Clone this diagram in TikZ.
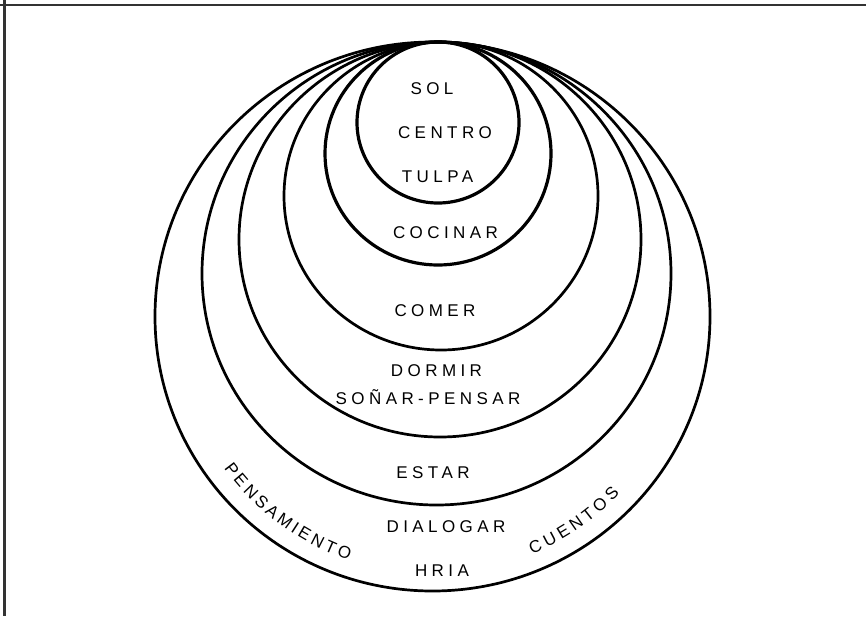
\documentclass[tikz,border=0pt]{standalone}
\usepackage{fontspec}
\setmainfont{Liberation Sans}
\newfontfamily\lblfont[LetterSpace=26]{Liberation Sans}
\begin{document}
\begin{tikzpicture}[x=1pt,y=-1pt,
  ring/.style={draw=black, line width=2.7pt},
  thickring/.style={draw=black, line width=3.2pt},
  framerule/.style={draw=black!80, line width=2.6pt},
  lbl/.style={font=\lblfont\fontsize{17}{17}\selectfont, inner sep=0pt, anchor=base},
  arclbl/.style={font=\fontsize{17}{17}\selectfont, inner sep=0pt}]
\useasboundingbox (0,0) rectangle (866,616);
\fill[white] (0,0) rectangle (866,616);
% frame (top and left only)
\draw[framerule] (0,5) -- (866,5);
\draw[framerule] (4.5,0) -- (4.5,616);
% nested ellipses, all touching at the top
\draw[thickring] (438,122.5) ellipse [x radius=81, y radius=80.5];
\draw[thickring] (438,153.5) ellipse [x radius=113, y radius=111.5];
\draw[ring] (441,196) ellipse [x radius=157, y radius=154];
\draw[ring] (440,239.5) ellipse [x radius=201, y radius=197.5];
\draw[ring] (436.5,273.5) ellipse [x radius=234.5, y radius=231.5];
\draw[ring] (432.5,316.5) ellipse [x radius=277.5, y radius=274.5];
% labels
\node[lbl] (sol) at (432,94.8) {SOL};
\node[lbl] (centro) at (445,138.3) {CENTRO};
\node[lbl] (tulpa) at (437.5,182.8) {TULPA};
\node[lbl] (cocinar) at (445.5,238.8) {COCINAR};
\node[lbl] (comer) at (435,316.2) {COMER};
\node[lbl] (dormir) at (436.5,376.8) {DORMIR};
\node[lbl] (sonar) at (428,404.8) {SOÑAR-PENSAR};
\node[lbl] (estar) at (433,478.3) {ESTAR};
\node[lbl] (dialogar) at (446,532.5) {DIALOGAR};
\node[lbl] (hria) at (442,576.5) {HRIA};
% curved labels, one letter per node, tops pointing to the centre
\foreach \l/\a [count=\i] in {P/217.3,E/220.57,N/223.95,S/227.33,A/230.60,M/234.19,I/237.03,E/239.55,N/242.93,T/246.20,O/249.58} {
  \node[arclbl, rotate=\a+90] (pen\i) at ({432.5+252*cos(\a)},{316.5-252*sin(\a)})
    {\makebox[0pt]{\raisebox{-5.85pt}[0pt][0pt]{\l}}};
}
\foreach \l/\a [count=\i] in {C/294.1,U/297.72,E/301.24,N/304.75,T/308.16,O/311.67,S/315.29} {
  \node[arclbl, rotate=\a+90] (cue\i) at ({432.5+252*cos(\a)},{316.5-252*sin(\a)})
    {\makebox[0pt]{\raisebox{-5.85pt}[0pt][0pt]{\l}}};
}
\end{tikzpicture}
\end{document}
